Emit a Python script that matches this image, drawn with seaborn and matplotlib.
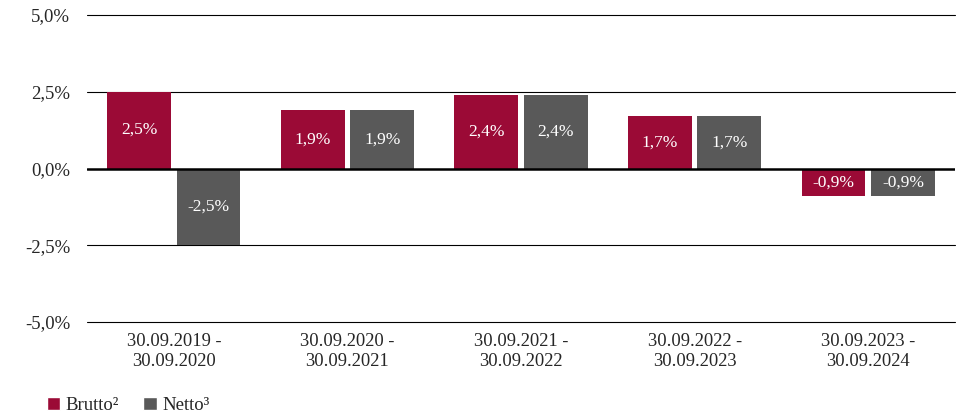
import pandas as pd
import seaborn as sns
import matplotlib.pyplot as plt
from matplotlib.patches import Patch

# data
periods = ['30.09.2019 -\n30.09.2020', '30.09.2020 -\n30.09.2021', '30.09.2021 -\n30.09.2022',
           '30.09.2022 -\n30.09.2023', '30.09.2023 -\n30.09.2024']
brutto = [2.5, 1.9, 2.4, 1.7, -0.9]
netto = [-2.5, 1.9, 2.4, 1.7, -0.9]
series = ['Brutto²', 'Netto³']
colors = ['#9B0A36', '#595959']

df = pd.DataFrame({'Zeitraum': periods * 2,
                   'Wert': brutto + netto,
                   'Serie': [series[0]] * len(periods) + [series[1]] * len(periods)})

sns.set_style('white')
plt.rcParams['font.family'] = ['Liberation Serif', 'DejaVu Serif']

fig = plt.figure(figsize=(9.69, 4.12), dpi=100)
ax = fig.add_axes([0.0898, 0.2184, 0.8958, 0.7452])

sns.barplot(data=df, x='Zeitraum', y='Wert', hue='Serie', palette=colors, saturation=1,
            width=0.8, gap=0.08, linewidth=0, ax=ax, legend=False, zorder=2)

# gridlines + zero line
for y in [5, 2.5, -2.5, -5]:
    ax.axhline(y, color='black', lw=0.8, zorder=1, clip_on=False)
ax.axhline(0, color='black', lw=1.8, zorder=5)

for cont in ax.containers:
    ax.bar_label(cont, labels=[f'{v:.1f}%'.replace('.', ',') for v in cont.datavalues],
                 label_type='center', color='white', fontsize=12.5)

ax.set_ylim(-5, 5)
ax.set_xlim(-0.5, 4.5)
ax.set_yticks([-5, -2.5, 0, 2.5, 5])
ax.set_yticklabels([f'{v:.1f}%'.replace('.', ',') for v in [-5, -2.5, 0, 2.5, 5]], fontsize=13.5)
ax.tick_params(axis='x', labelsize=13.3, length=0, pad=8)
ax.tick_params(axis='y', length=0, pad=12)
ax.set_xlabel('')
ax.set_ylabel('')
sns.despine(ax=ax, left=True, bottom=True)

handles = [Patch(facecolor=c, label=s) for c, s in zip(colors, series)]
fig.legend(handles=handles, loc='lower left', bbox_to_anchor=(0.031, -0.045), ncol=2,
           frameon=False, fontsize=13.5, handlelength=0.7, handleheight=0.7,
           handletextpad=0.3, columnspacing=1.3)

plt.savefig('out.png', dpi=100)
